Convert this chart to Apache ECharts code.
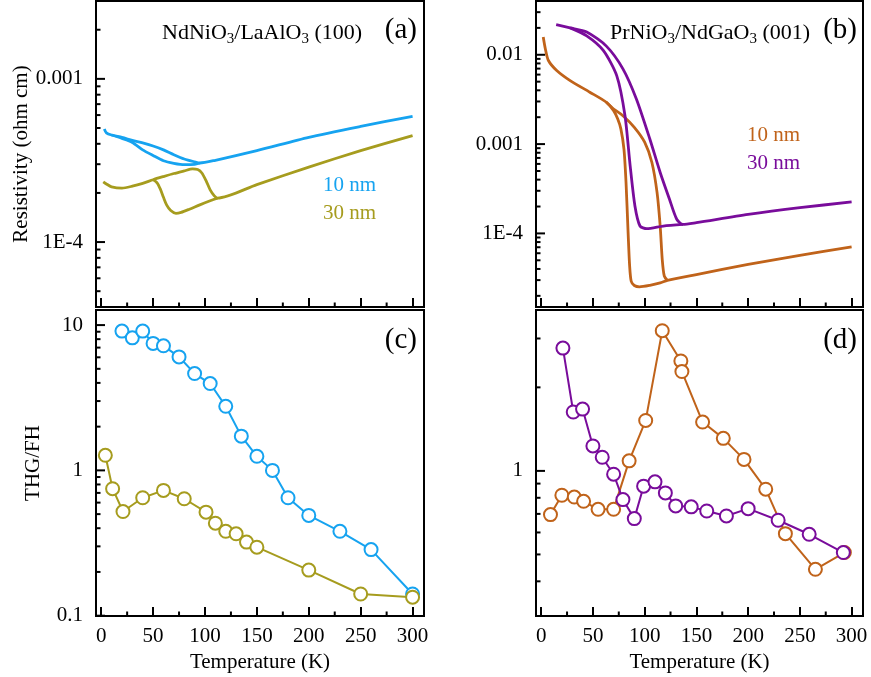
<!DOCTYPE html>
<html><head><meta charset="utf-8">
<script src="https://cdn.jsdelivr.net/npm/echarts@6/dist/echarts.min.js"></script>
<style>html,body{margin:0;padding:0;background:#fff}#c{width:871px;height:677px}</style>
</head><body><div id="c"></div>
<script>
// ---------------- data ----------------
const X_MAJOR = [0, 50, 100, 150, 200, 250, 300];
const X_MINOR = [25, 75, 125, 175, 225, 275];
const A_YLABELS = ['0.001', '1E-4'];
const B_YLABELS = ['0.01', '0.001', '1E-4'];
const C_YLABELS = ['10', '1', '0.1'];
const D_YLABELS = ['1'];

const A10_T_MAIN = [3, 5, 10, 20, 30, 40, 50, 60, 70, 80, 90, 95, 110, 150, 200, 250, 300];
const A10_R_MAIN = [4.93e-4, 4.67e-4, 4.53e-4, 4.38e-4, 4.20e-4, 4.05e-4, 3.88e-4, 3.67e-4, 3.43e-4, 3.23e-4, 3.10e-4, 3.05e-4, 3.17e-4, 3.63e-4, 4.38e-4, 5.11e-4, 5.90e-4];
const A10_T_LOOP = [10, 20, 30, 40, 50, 60, 70, 80, 90, 95];
const A10_R_LOOP = [4.53e-4, 4.32e-4, 4.08e-4, 3.67e-4, 3.39e-4, 3.15e-4, 3.04e-4, 2.98e-4, 2.99e-4, 3.05e-4];
const A30_T_MAIN = [2, 5, 10, 20, 30, 40, 50, 60, 70, 80, 88, 93, 97, 101, 105, 109, 112, 150, 200, 250, 300];
const A30_R_MAIN = [2.34e-4, 2.27e-4, 2.18e-4, 2.14e-4, 2.20e-4, 2.29e-4, 2.41e-4, 2.52e-4, 2.63e-4, 2.73e-4, 2.81e-4, 2.78e-4, 2.65e-4, 2.38e-4, 2.09e-4, 1.92e-4, 1.86e-4, 2.25e-4, 2.88e-4, 3.63e-4, 4.49e-4];
const A30_T_LOOP = [50, 54, 57, 60, 63, 67, 72, 77, 85, 95, 105, 112];
const A30_R_LOOP = [2.41e-4, 2.30e-4, 2.11e-4, 1.88e-4, 1.69e-4, 1.56e-4, 1.50e-4, 1.52e-4, 1.59e-4, 1.69e-4, 1.79e-4, 1.86e-4];

const B10_T_MAIN = [2, 4, 7, 15, 28, 47, 63, 70, 74, 77, 80, 82, 84, 85.5, 87, 90, 95, 105, 115, 122, 150, 200, 250, 300];
const B10_R_MAIN = [0.0158, 0.0117, 0.00863, 0.00667, 0.00514, 0.00381, 0.00294, 2.37e-3, 1.91e-3, 1.48e-3, 8.8e-4, 3.72e-4, 1.02e-4, 4.3e-5, 2.91e-5, 2.61e-5, 2.52e-5, 2.62e-5, 2.79e-5, 2.98e-5, 3.46e-5, 4.49e-5, 5.66e-5, 7.08e-5];
const B10_T_LOOP = [63, 70, 79, 90, 100, 107, 112, 115, 117, 119, 122];
const B10_R_LOOP = [0.00294, 2.47e-3, 2.08e-3, 1.54e-3, 1.05e-3, 6.22e-4, 2.86e-4, 1.21e-4, 5.1e-5, 3.32e-5, 2.98e-5];
const B30_T_MAIN = [14.5, 28, 44, 63, 79, 92, 105, 115, 124, 131, 137, 150, 200, 250, 300];
const B30_R_MAIN = [0.0217, 0.0200, 0.0180, 0.0125, 6.96e-3, 3.2e-3, 1.14e-3, 4.81e-4, 2.41e-4, 1.44e-4, 1.26e-4, 1.32e-4, 1.63e-4, 1.94e-4, 2.25e-4];
const B30_T_LOOP = [28, 44, 60, 73, 81, 86, 90.6, 95.5, 102, 118, 137];
const B30_R_LOOP = [0.0200, 0.0163, 0.0112, 5.85e-3, 2.08e-3, 5.7e-4, 2.03e-4, 1.21e-4, 1.13e-4, 1.21e-4, 1.26e-4];

const C10_T = [20, 30, 40, 50, 60, 75, 90, 105, 120, 135, 150, 165, 180, 200, 230, 260, 300];
const C10_V = [9.09, 8.17, 9.09, 7.48, 7.2, 6.04, 4.64, 3.96, 2.76, 1.72, 1.25, 1.0, 0.648, 0.49, 0.381, 0.285, 0.141];
const C30_T = [4, 11, 21, 40, 60, 80, 101, 110, 120, 130, 140, 150, 200, 250, 300];
const C30_V = [1.27, 0.748, 0.521, 0.648, 0.728, 0.638, 0.516, 0.433, 0.381, 0.366, 0.321, 0.296, 0.206, 0.141, 0.134];

const D10_T = [9, 20, 32, 41, 55, 70, 85, 101, 117, 135, 136, 156, 176, 196, 217, 236, 265, 293];
const D10_V = [0.696, 0.817, 0.805, 0.777, 0.727, 0.727, 1.087, 1.52, 3.2, 2.49, 2.28, 1.50, 1.31, 1.10, 0.859, 0.594, 0.442, 0.508];
const D30_T = [21, 31, 40, 50, 59, 70, 79, 90, 99, 110, 120, 130, 145, 160, 179, 200, 229, 259, 292];
const D30_V = [2.77, 1.63, 1.67, 1.23, 1.12, 0.973, 0.788, 0.673, 0.881, 0.913, 0.833, 0.748, 0.742, 0.717, 0.688, 0.731, 0.664, 0.591, 0.508];

// ---------------- styling / layout ----------------
const FONT = '"Liberation Serif", "Times New Roman", serif';
const BLUE = '#16a3f0', OLIVE = '#a69c1e', ORANGE = '#c0631a', PURPLE = '#790c9b';
const XMIN = -5, XMAX = 311;
const chart = echarts.init(document.getElementById('c'), null, { renderer: 'canvas' });

function zip(t, v) { return t.map((x, i) => [x, v[i]]); }
function logTicks(min, max) {
  const major = [], minor = [];
  for (let e = Math.floor(Math.log10(min)); e <= Math.ceil(Math.log10(max)); e++) {
    for (let m = 1; m <= 9; m++) {
      const v = parseFloat((m * Math.pow(10, e)).toPrecision(6));
      if (v >= min * (1 - 1e-9) && v <= max * (1 + 1e-9)) (m === 1 ? major : minor).push(v);
    }
  }
  return { major, minor };
}

const panels = [
  { left: 96, top: 1, width: 328, height: 306, ymin: 4e-5, ymax: 3e-3, ylabels: A_YLABELS, xlab: false, yname: 'Resistivity (ohm cm)', ygap: 64 },
  { left: 536, top: 1, width: 327, height: 306, ymin: 1.5e-5, ymax: 0.04, ylabels: B_YLABELS, xlab: false, yname: '', ygap: 0 },
  { left: 96, top: 310, width: 328, height: 306, ymin: 0.0995, ymax: 12.7, ylabels: C_YLABELS, xlab: true, yname: 'THG/FH', ygap: 52 },
  { left: 536, top: 310, width: 327, height: 306, ymin: 0.3, ymax: 3.8, ylabels: D_YLABELS, xlab: true, yname: '', ygap: 0 }
];

const grids = [], xAxes = [], yAxes = [];
const tickStyle = { color: '#000', width: 2 };
panels.forEach((p, g) => {
  grids.push({ left: p.left, top: p.top, width: p.width, height: p.height, show: true, borderColor: '#000', borderWidth: 2, backgroundColor: 'transparent' });
  xAxes.push({
    type: 'value', gridIndex: g, min: XMIN, max: XMAX, position: 'bottom', axisLine: { show: false, onZero: false }, splitLine: { show: false },
    axisTick: { show: true, inside: true, length: 9, lineStyle: tickStyle, customValues: X_MAJOR },
    axisLabel: { show: p.xlab, customValues: X_MAJOR, fontFamily: FONT, fontSize: 21, color: '#000', margin: 10 },
    name: p.xlab ? 'Temperature (K)' : '', nameLocation: 'middle', nameGap: 36,
    nameTextStyle: { fontFamily: FONT, fontSize: 21, color: '#000' }
  });
  const labelVals = p.ylabels.map(Number);
  yAxes.push({
    type: 'log', logBase: 10, gridIndex: g, min: p.ymin, max: p.ymax, position: 'left',
    axisLine: { show: false, onZero: false }, splitLine: { show: false }, axisTick: { show: false },
    axisLabel: {
      show: true, customValues: labelVals, fontFamily: FONT, fontSize: 21, color: '#000', margin: 13,
      formatter: function (v) {
        for (let i = 0; i < labelVals.length; i++) {
          if (Math.abs(Math.log10(labelVals[i]) - Math.log10(v)) < 1e-6) return p.ylabels[i];
        }
        return '';
      }
    },
    name: p.yname, nameLocation: 'middle', nameGap: p.ygap, nameRotate: 90,
    nameTextStyle: { fontFamily: FONT, fontSize: 21, color: '#000' }
  });
});

function curve(name, g, t, r, color) {
  return { name, type: 'line', xAxisIndex: g, yAxisIndex: g, data: zip(t, r), showSymbol: false, symbol: 'none', smooth: 0.25,
    lineStyle: { color, width: 2.8 }, itemStyle: { color }, silent: true };
}
function points(name, g, t, v, color) {
  return { name, type: 'line', xAxisIndex: g, yAxisIndex: g, data: zip(t, v), symbol: 'emptyCircle', symbolSize: 13, showSymbol: true,
    lineStyle: { color, width: 2 }, itemStyle: { color, borderColor: color, borderWidth: 2.5 }, silent: true };
}

const series = [
  curve('NdNiO3 10 nm', 0, A10_T_MAIN, A10_R_MAIN, BLUE),
  curve('NdNiO3 10 nm loop', 0, A10_T_LOOP, A10_R_LOOP, BLUE),
  curve('NdNiO3 30 nm', 0, A30_T_MAIN, A30_R_MAIN, OLIVE),
  curve('NdNiO3 30 nm loop', 0, A30_T_LOOP, A30_R_LOOP, OLIVE),
  curve('PrNiO3 10 nm', 1, B10_T_MAIN, B10_R_MAIN, ORANGE),
  curve('PrNiO3 10 nm loop', 1, B10_T_LOOP, B10_R_LOOP, ORANGE),
  curve('PrNiO3 30 nm', 1, B30_T_MAIN, B30_R_MAIN, PURPLE),
  curve('PrNiO3 30 nm loop', 1, B30_T_LOOP, B30_R_LOOP, PURPLE),
  points('THG NdNiO3 10 nm', 2, C10_T, C10_V, BLUE),
  points('THG NdNiO3 30 nm', 2, C30_T, C30_V, OLIVE),
  points('THG PrNiO3 10 nm', 3, D10_T, D10_V, ORANGE),
  points('THG PrNiO3 30 nm', 3, D30_T, D30_V, PURPLE)
];

function txt(x, y, text, size, color, align, rich) {
  const st = { x, y, text, fontFamily: FONT, fontSize: size, fill: color, textAlign: align || 'left', textVerticalAlign: 'middle' };
  if (rich) st.rich = rich;
  return { type: 'text', style: st, z: 100 };
}
const subRich = { s: { fontFamily: FONT, fontSize: 15, fill: '#000', padding: [12, 0, 0, 0] }, m: { fontFamily: FONT, fontSize: 22, fill: '#000' } };

const graphics = [
  txt(162, 33, '{m|NdNiO}{s|3}{m|/LaAlO}{s|3}{m| (100)}', 22, '#000', 'left', subRich),
  txt(417, 30, '(a)', 29, '#000', 'right'),
  txt(610, 33, '{m|PrNiO}{s|3}{m|/NdGaO}{s|3}{m| (001)}', 22, '#000', 'left', subRich),
  txt(857, 30, '(b)', 29, '#000', 'right'),
  txt(417, 340, '(c)', 29, '#000', 'right'),
  txt(857, 340, '(d)', 29, '#000', 'right'),
  txt(323, 185, '10 nm', 21, BLUE),
  txt(323, 213, '30 nm', 21, OLIVE),
  txt(747, 135, '10 nm', 21, ORANGE),
  txt(747, 163, '30 nm', 21, PURPLE)
];

chart.setOption({
  animation: false,
  backgroundColor: '#fff',
  grid: grids,
  xAxis: xAxes,
  yAxis: yAxes,
  series: series,
  graphic: graphics
});

// inward log-decade ticks on the y axes and minor x ticks, positioned through each grid's own scales
const tickEls = [];
function tickLine(x1, y1, x2, y2) {
  return { type: 'line', shape: { x1: x1, y1: y1, x2: x2, y2: y2 }, style: { stroke: '#000', lineWidth: 2 }, silent: true, z: 50 };
}
panels.forEach((p, g) => {
  const lt = logTicks(p.ymin, p.ymax);
  const finder = { xAxisIndex: g, yAxisIndex: g };
  const add = (v, len) => {
    const pt = chart.convertToPixel(finder, [XMIN, v]);
    if (pt && isFinite(pt[1])) tickEls.push(tickLine(pt[0], pt[1], pt[0] + len, pt[1]));
  };
  lt.major.forEach(v => add(v, 9));
  lt.minor.forEach(v => add(v, 4.5));
  X_MINOR.forEach(t => {
    const pt = chart.convertToPixel(finder, [t, p.ymin]);
    if (pt && isFinite(pt[0])) tickEls.push(tickLine(pt[0], pt[1], pt[0], pt[1] - 4.5));
  });
});
chart.setOption({ graphic: graphics.concat(tickEls) });
</script></body></html>
